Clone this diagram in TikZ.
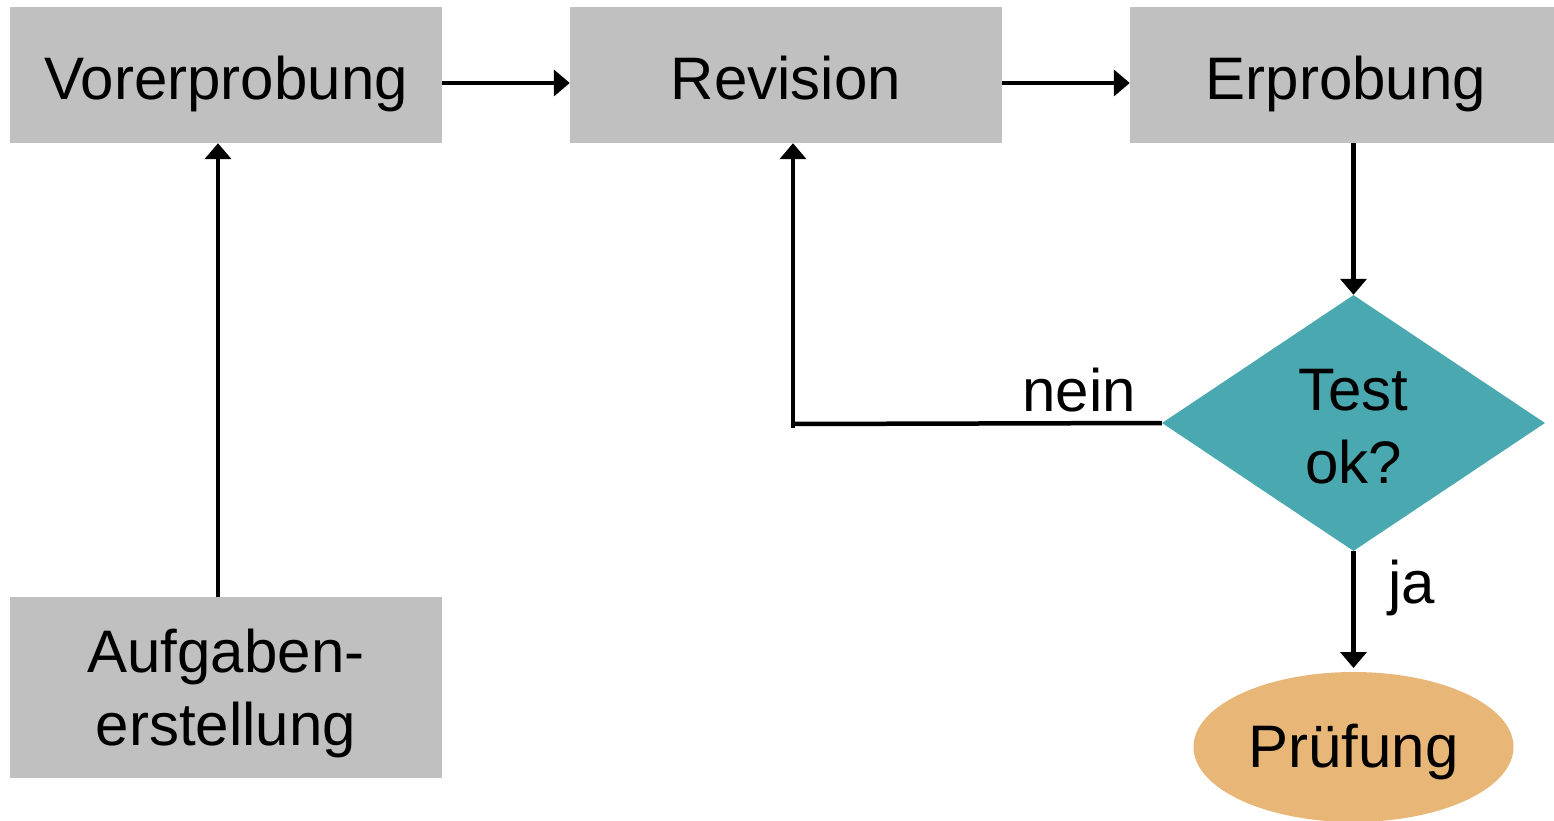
\documentclass[tikz,border=0pt]{standalone}
\usepackage{fontspec}
\setmainfont{Liberation Sans}
\usetikzlibrary{arrows.meta,shapes.geometric}
\definecolor{boxgray}{HTML}{C0C0C0}
\definecolor{testteal}{HTML}{4AA9B0}
\definecolor{examorange}{HTML}{E8B778}
\newcommand{\lowered}[2]{\raisebox{-#1}[\height][\depth]{#2}}
\tikzset{
  stagebox/.style={fill=boxgray, inner sep=0pt, align=center,
    font=\fontsize{60}{73}\selectfont},
  oneline/.style={text height=70pt, text depth=20pt},
  decision/.style={diamond, fill=testteal, inner sep=0pt, shape aspect=1.5,
    minimum width=383pt, minimum height=256pt, align=center,
    font=\fontsize{60}{73}\selectfont},
  terminal/.style={ellipse, fill=examorange, inner sep=0pt,
    minimum width=320pt, minimum height=150pt,
    font=\fontsize{60}{72}\selectfont},
  flow/.style={line width=4.5pt, -{Triangle[length=16pt,width=26pt]}},
  plain/.style={line width=4.5pt},
  edgelabel/.style={font=\fontsize{60}{72}\selectfont, inner sep=0pt}
}
\begin{document}
\begin{tikzpicture}[x=1pt,y=-1pt]
\useasboundingbox (0,0) rectangle (1554,821);

\node[stagebox, oneline, minimum width=432pt, minimum height=136pt] (vor) at (226,75) {Vorerprobung};
\node[stagebox, oneline, minimum width=432pt, minimum height=136pt] (rev) at (786,75) {Revision};
\node[stagebox, oneline, minimum width=424pt, minimum height=136pt] (erp) at (1342,75) {\hspace*{8pt}Erprobung};
\node[stagebox, minimum width=432pt, minimum height=181pt] (auf) at (226,687.5)
  {\lowered{7pt}{\begin{tabular}{@{}c@{}}Aufgaben-\\erstellung\end{tabular}}};
\node[decision] (test) at (1353.5,423)
  {\lowered{9pt}{\begin{tabular}{@{}c@{}}Test\\ok?\end{tabular}}};
\node[terminal] (pruef) at (1353.5,747) {\lowered{5pt}{Prüfung}};

\draw[flow] (vor.east |- 0,83) -- (rev.west |- 0,83);
\draw[flow] (rev.east |- 0,83) -- (erp.west |- 0,83);
\draw[flow] (auf.north -| 218,0) -- (vor.south -| 218,0);
\draw[flow] (erp.south -| test.north) -- (test.north);

% "nein" branch back to the revision step
\coordinate (bend) at (793,424);
\coordinate (bendlow) at (793,428);
\draw[plain] (test.west) -- (bend);
\draw[flow] (bendlow) -- (bendlow |- rev.south);
\node[edgelabel] (nein) at (1079,390) {nein};

% "ja" branch to the exam
\draw[flow] (test.south) -- (1353.5,668);
\node[edgelabel] (ja) at (1412,588) {ja};
\end{tikzpicture}
\end{document}
